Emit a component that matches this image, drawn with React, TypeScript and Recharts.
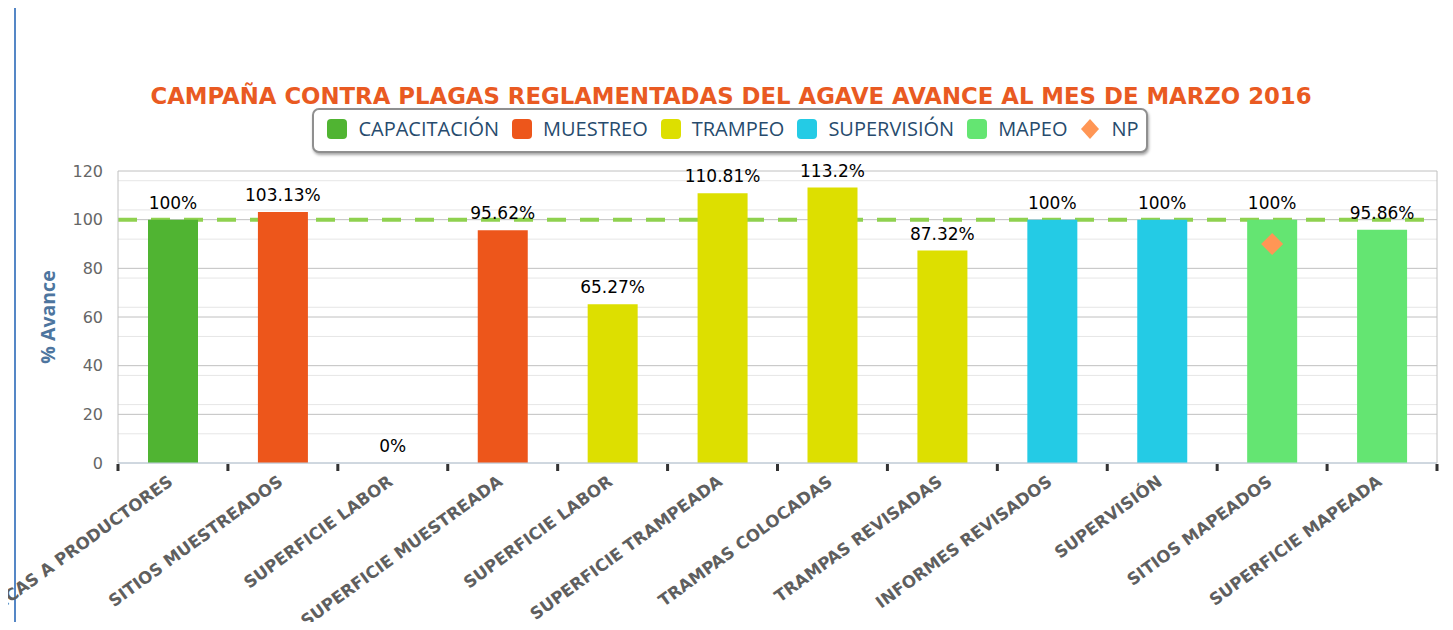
import React from 'react';
import {
  ComposedChart,
  Bar,
  Line,
  XAxis,
  YAxis,
  CartesianGrid,
  LabelList,
  Cell,
  Legend,
} from 'recharts';

// ---- data ----
const categories = [
  'PLÁTICAS A PRODUCTORES',
  'SITIOS MUESTREADOS',
  'SUPERFICIE LABOR',
  'SUPERFICIE MUESTREADA',
  'SUPERFICIE LABOR',
  'SUPERFICIE TRAMPEADA',
  'TRAMPAS COLOCADAS',
  'TRAMPAS REVISADAS',
  'INFORMES REVISADOS',
  'SUPERVISIÓN',
  'SITIOS MAPEADOS',
  'SUPERFICIE MAPEADA',
];
const values = [100, 103.13, 0, 95.62, 65.27, 110.81, 113.2, 87.32, 100, 100, 100, 95.86];
const groupIndex = [0, 1, 1, 1, 2, 2, 2, 2, 3, 3, 4, 4];
const npValues: (number | null)[] = [null, null, null, null, null, null, null, null, null, null, 90, null];
const seriesNames = ['CAPACITACIÓN', 'MUESTREO', 'TRAMPEO', 'SUPERVISIÓN', 'MAPEO', 'NP'];
const seriesColors = ['#50B432', '#ED561B', '#DDDF00', '#24CBE5', '#64E572', '#FF9655'];
const yTicks = [0, 20, 40, 60, 80, 100, 120];
const minorTicks = [4, 8, 12, 16, 24, 28, 32, 36, 44, 48, 52, 56, 64, 68, 72, 76, 84, 88, 92, 96, 104, 108, 112, 116];
const targetValues = [100];
const title = 'CAMPAÑA CONTRA PLAGAS REGLAMENTADAS DEL AGAVE AVANCE AL MES DE MARZO 2016';
const yAxisTitle = '% Avance';

const data = categories.map((name, i) => ({
  name,
  value: values[i],
  np: npValues[i],
  group: groupIndex[i],
}));

const CategoryTick = (props: any) => {
  const { x, y, payload, index, width, visibleTicksCount } = props;
  const half = width / visibleTicksCount / 2;
  const tx = x + 1;
  const ty = y + 21;
  return (
    <g>
      <rect x={x - half - 1.5} y={y + 1} width={3} height={7} fill="#333" />
      {index === visibleTicksCount - 1 && (
        <rect x={x + half - 1.5} y={y + 1} width={3} height={7} fill="#333" />
      )}
      <text
        x={tx}
        y={ty}
        textAnchor="end"
        transform={`rotate(-36, ${tx}, ${ty})`}
        fill="#5f5f5f"
        fontSize={16.7}
        fontWeight="bold"
        fontFamily="DejaVu Sans"
      >
        {payload.value}
      </text>
    </g>
  );
};

const YTitle = (props: any) => {
  const vb = props.viewBox || { x: 0, y: 171, width: 110, height: 292 };
  const cx = vb.x + 39;
  const cy = vb.y + vb.height / 2;
  return (
    <text
      x={cx}
      y={cy}
      textAnchor="middle"
      dominantBaseline="central"
      transform={`rotate(-90, ${cx}, ${cy})`}
      fill="#4d759e"
      fontSize={19.5}
      fontWeight="bold"
      fontFamily="Open Sans"
    >
      {yAxisTitle}
    </text>
  );
};

const Diamond = (props: any) => {
  const { cx, cy, value } = props;
  if (value == null || cy == null || isNaN(cy)) return <g key={props.key ?? props.index} />;
  const r = 11;
  return (
    <path
      key={props.key ?? props.index}
      d={`M${cx},${cy - r}L${cx + r},${cy}L${cx},${cy + r}L${cx - r},${cy}Z`}
      fill={seriesColors[5]}
    />
  );
};

const LegendBox = () => (
  <div
    style={{
      width: 836,
      height: 45,
      boxSizing: 'border-box',
      border: '2px solid #8f8f8f',
      borderRadius: 7,
      boxShadow: '1px 2px 3px rgba(0,0,0,0.35)',
      background: '#fff',
      display: 'flex',
      alignItems: 'center',
      justifyContent: 'center',
      paddingBottom: 4,
      paddingLeft: 6,
      fontFamily: 'Open Sans',
      fontSize: 20,
      color: '#274b6d',
    }}
  >
    {seriesNames.map((n, i) => (
      <div key={n} style={{ display: 'flex', alignItems: 'center', marginRight: i === seriesNames.length - 1 ? 0 : 13 }}>
        {i < 5 ? (
          <div style={{ width: 20, height: 20, borderRadius: 4, background: seriesColors[i] }} />
        ) : (
          <svg width={20} height={22}>
            <path d="M10,1L19,11L10,21L1,11Z" fill={seriesColors[i]} />
          </svg>
        )}
        <span style={{ marginLeft: 11, lineHeight: '20px' }}>{n}</span>
      </div>
    ))}
  </div>
);

const frameColor = '#5587c6';

export default function App() {
  return (
    <div
      style={{
        position: 'relative',
        width: 1453,
        height: 630,
        margin: -8,
        overflow: 'hidden',
        background: '#fff',
      }}
    >
      <svg
        width={1453}
        height={630}
        style={{ position: 'absolute', left: 0, top: 0, pointerEvents: 'none' }}
      >
        <path d="M15,640 L15,7 L1446,7 L1446,640" fill="none" stroke={frameColor} strokeWidth={2} />
      </svg>
      <div
        style={{
          position: 'absolute',
          left: 0,
          top: 83,
          width: 1462,
          textAlign: 'center',
          fontFamily: 'DejaVu Sans',
          fontWeight: 'bold',
          fontSize: 22.8,
          lineHeight: '26px',
          color: '#e95a22',
          whiteSpace: 'nowrap',
        }}
      >
        {title}
      </div>
      <div style={{ position: 'absolute', left: 8, top: 0 }}>
        <ComposedChart
          width={1445}
          height={630}
          data={data}
          margin={{ top: 171, right: 15, bottom: 137, left: 0 }}
        >
          <CartesianGrid vertical={false} horizontalValues={minorTicks} stroke="#e6e6e6" />
          <CartesianGrid vertical={false} horizontalValues={yTicks} stroke="#c0c0c0" />
          <CartesianGrid
            vertical={false}
            horizontalValues={targetValues}
            stroke="#8fd14f"
            strokeWidth={4}
            strokeDasharray="19 14"
          />
          <XAxis
            dataKey="name"
            interval={0}
            height={30}
            tickSize={0}
            tickMargin={0}
            tickLine={false}
            axisLine={{ stroke: '#c0d0e0' }}
            tick={<CategoryTick />}
          />
          <YAxis
            domain={[0, 120]}
            ticks={yTicks}
            width={110}
            tickSize={0}
            tickMargin={15}
            tickLine={false}
            axisLine={{ stroke: '#c0c0c0' }}
            tick={{ fill: '#666666', fontSize: 16, fontFamily: 'DejaVu Sans' }}
            label={<YTitle />}
          />
          <YAxis
            yAxisId="right"
            orientation="right"
            width={1}
            domain={[0, 120]}
            ticks={yTicks}
            tick={false}
            tickLine={false}
            axisLine={{ stroke: '#c0c0c0' }}
          />
          <Legend
            verticalAlign="middle"
            align="center"
            content={<LegendBox />}
            wrapperStyle={{ top: 108, left: 304, width: 836, height: 45 }}
          />
          <Bar dataKey="value" barSize={50} isAnimationActive={false}>
            {data.map((d, i) => (
              <Cell key={i} fill={seriesColors[d.group]} />
            ))}
          </Bar>
          <Line
            dataKey="value"
            stroke="none"
            dot={false}
            activeDot={false}
            legendType="none"
            isAnimationActive={false}
          >
            <LabelList
              dataKey="value"
              position="top"
              offset={11}
              formatter={(v: any) => `${v}%`}
              style={{ fill: '#000', fontSize: 17, fontFamily: 'DejaVu Sans' }}
            />
          </Line>
          <Line
            dataKey="np"
            stroke="none"
            dot={Diamond}
            activeDot={false}
            legendType="diamond"
            isAnimationActive={false}
          />
        </ComposedChart>
      </div>
    </div>
  );
}
